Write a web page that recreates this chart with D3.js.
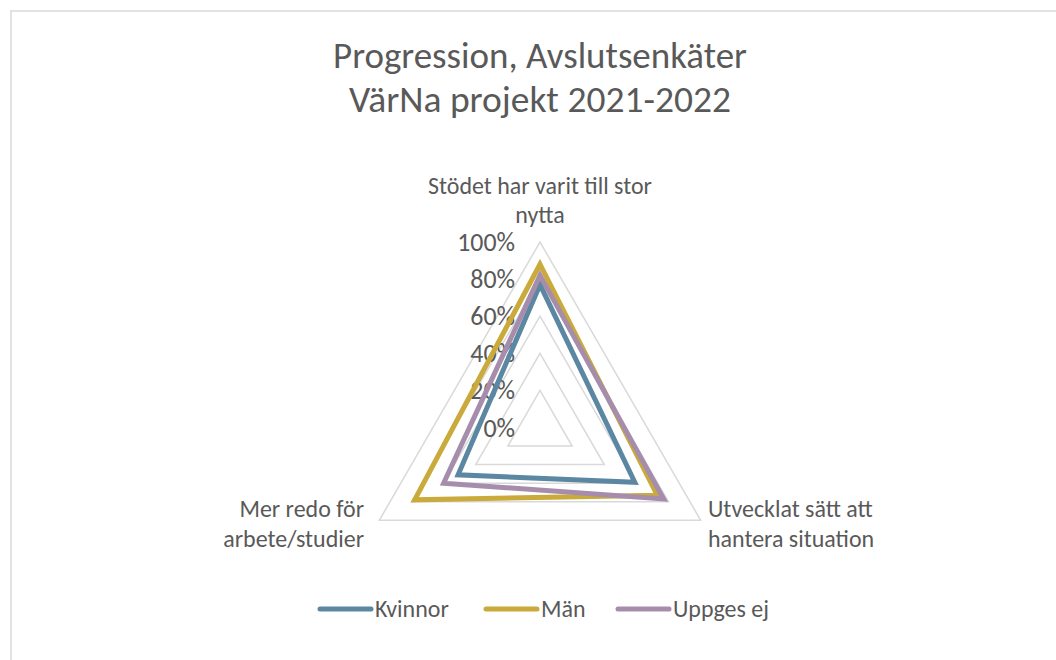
<!DOCTYPE html>
<html>
<head>
<meta charset="utf-8">
<script src="https://cdn.jsdelivr.net/npm/d3@7"></script>
<style>
  html, body { margin: 0; padding: 0; background: #fff; }
  svg { display: block; }
  text { font-family: Carlito, Calibri, Lato, "Open Sans", sans-serif; fill: #595959; }
</style>
</head>
<body>
<svg id="chart" width="1056" height="660"></svg>
<script>
// ---- Data ----
const categories = ["Stödet har varit till stor nytta", "Utvecklat sätt att hantera situation", "Mer redo för arbete/studier"];
const categoryLines = [["Stödet har varit till stor", "nytta"], ["Utvecklat sätt att", "hantera situation"], ["Mer redo för", "arbete/studier"]];
const seriesNames = ["Kvinnor", "Män", "Uppges ej"];
const kvinnor = [0.77, 0.59, 0.51];
const man = [0.88, 0.73, 0.78];
const uppgesEj = [0.82, 0.77, 0.60];
const tickValues = [0, 0.2, 0.4, 0.6, 0.8, 1.0];
const titleLines = ["Progression, Avslutsenkäter", "VärNa projekt 2021-2022"];
const seriesColors = ["#5b87a2", "#c9aa3a", "#a78dac"];

const seriesValues = [kvinnor, man, uppgesEj];

// ---- Layout ----
const svg = d3.select("#chart");
const cx = 540, cy = 427.5, R = 185.5;

function fit(sel, target, base) {
  sel.style("font-size", base + "px");
  const w = sel.node().getComputedTextLength();
  const size = base * target / w;
  sel.style("font-size", size.toFixed(2) + "px");
  return size;
}

// chart border
svg.append("rect")
  .attr("x", 11).attr("y", 11).attr("width", 1200).attr("height", 800)
  .attr("fill", "#fff").attr("stroke", "#d9d9d9").attr("stroke-width", 1.5);

// title
const t1 = svg.append("text").attr("x", cx).attr("y", 68).attr("text-anchor", "middle").text(titleLines[0]);
fit(t1, 414, 28);
const t2 = svg.append("text").attr("x", cx).attr("y", 112).attr("text-anchor", "middle").text(titleLines[1]);
fit(t2, 382, 28);

const r = d3.scaleLinear().domain([0, 1]).range([0, R]);
const angle = d3.scalePoint().domain(d3.range(categories.length + 1)).range([0, 2 * Math.PI]);

const radial = d3.lineRadial()
  .angle((d, i) => angle(i))
  .radius(d => r(d))
  .curve(d3.curveLinearClosed);

const g = svg.append("g").attr("transform", `translate(${cx},${cy})`);

// grid
g.selectAll("path.grid")
  .data(tickValues)
  .join("path")
  .attr("class", "grid")
  .attr("d", t => radial(categories.map(() => t)))
  .attr("fill", "none")
  .attr("stroke", "#d9d9d9")
  .attr("stroke-width", 1.5);

// tick labels
const tickSel = g.selectAll("text.tick")
  .data(tickValues)
  .join("text")
  .attr("class", "tick")
  .attr("x", -25)
  .attr("y", t => -r(t))
  .attr("dy", "0.35em")
  .attr("text-anchor", "end")
  .text(d3.format(".0%"));

// series
g.selectAll("path.series")
  .data(seriesValues)
  .join("path")
  .attr("class", "series")
  .attr("d", d => radial(d))
  .attr("fill", "none")
  .attr("stroke", (d, i) => seriesColors[i])
  .attr("stroke-width", 5)
  .attr("stroke-linejoin", "miter");

// category labels
const probe = svg.append("text").text(categoryLines[0][0]);
const labelSize = fit(probe, 224, 17.5);
probe.remove();
const fs = labelSize.toFixed(2) + "px";
tickSel.style("font-size", (labelSize * 1.08).toFixed(2) + "px");

const topL = svg.append("text").attr("text-anchor", "middle").style("font-size", fs);
topL.append("tspan").attr("x", cx).attr("y", 194).text(categoryLines[0][0]);
topL.append("tspan").attr("x", cx).attr("y", 223).text(categoryLines[0][1]);

const rightL = svg.append("text").attr("text-anchor", "start").style("font-size", fs);
rightL.append("tspan").attr("x", 708).attr("y", 517).text(categoryLines[1][0]);
rightL.append("tspan").attr("x", 708).attr("y", 547).text(categoryLines[1][1]);

const leftL = svg.append("text").attr("text-anchor", "end").style("font-size", fs);
leftL.append("tspan").attr("x", 364).attr("y", 517).text(categoryLines[2][0]);
leftL.append("tspan").attr("x", 364).attr("y", 547).text(categoryLines[2][1]);

// legend
const legendX = [318, 484, 616];
const legend = svg.append("g");
seriesNames.forEach((name, i) => {
  const lg = legend.append("g").attr("transform", `translate(${legendX[i]},609)`);
  lg.append("line").attr("x1", 2).attr("x2", 53).attr("y1", 0).attr("y2", 0)
    .attr("stroke", seriesColors[i]).attr("stroke-width", 5).attr("stroke-linecap", "round");
  lg.append("text").attr("x", 57).attr("y", 0).attr("dy", "0.35em")
    .style("font-size", fs).text(name);
});
</script>
</body>
</html>
